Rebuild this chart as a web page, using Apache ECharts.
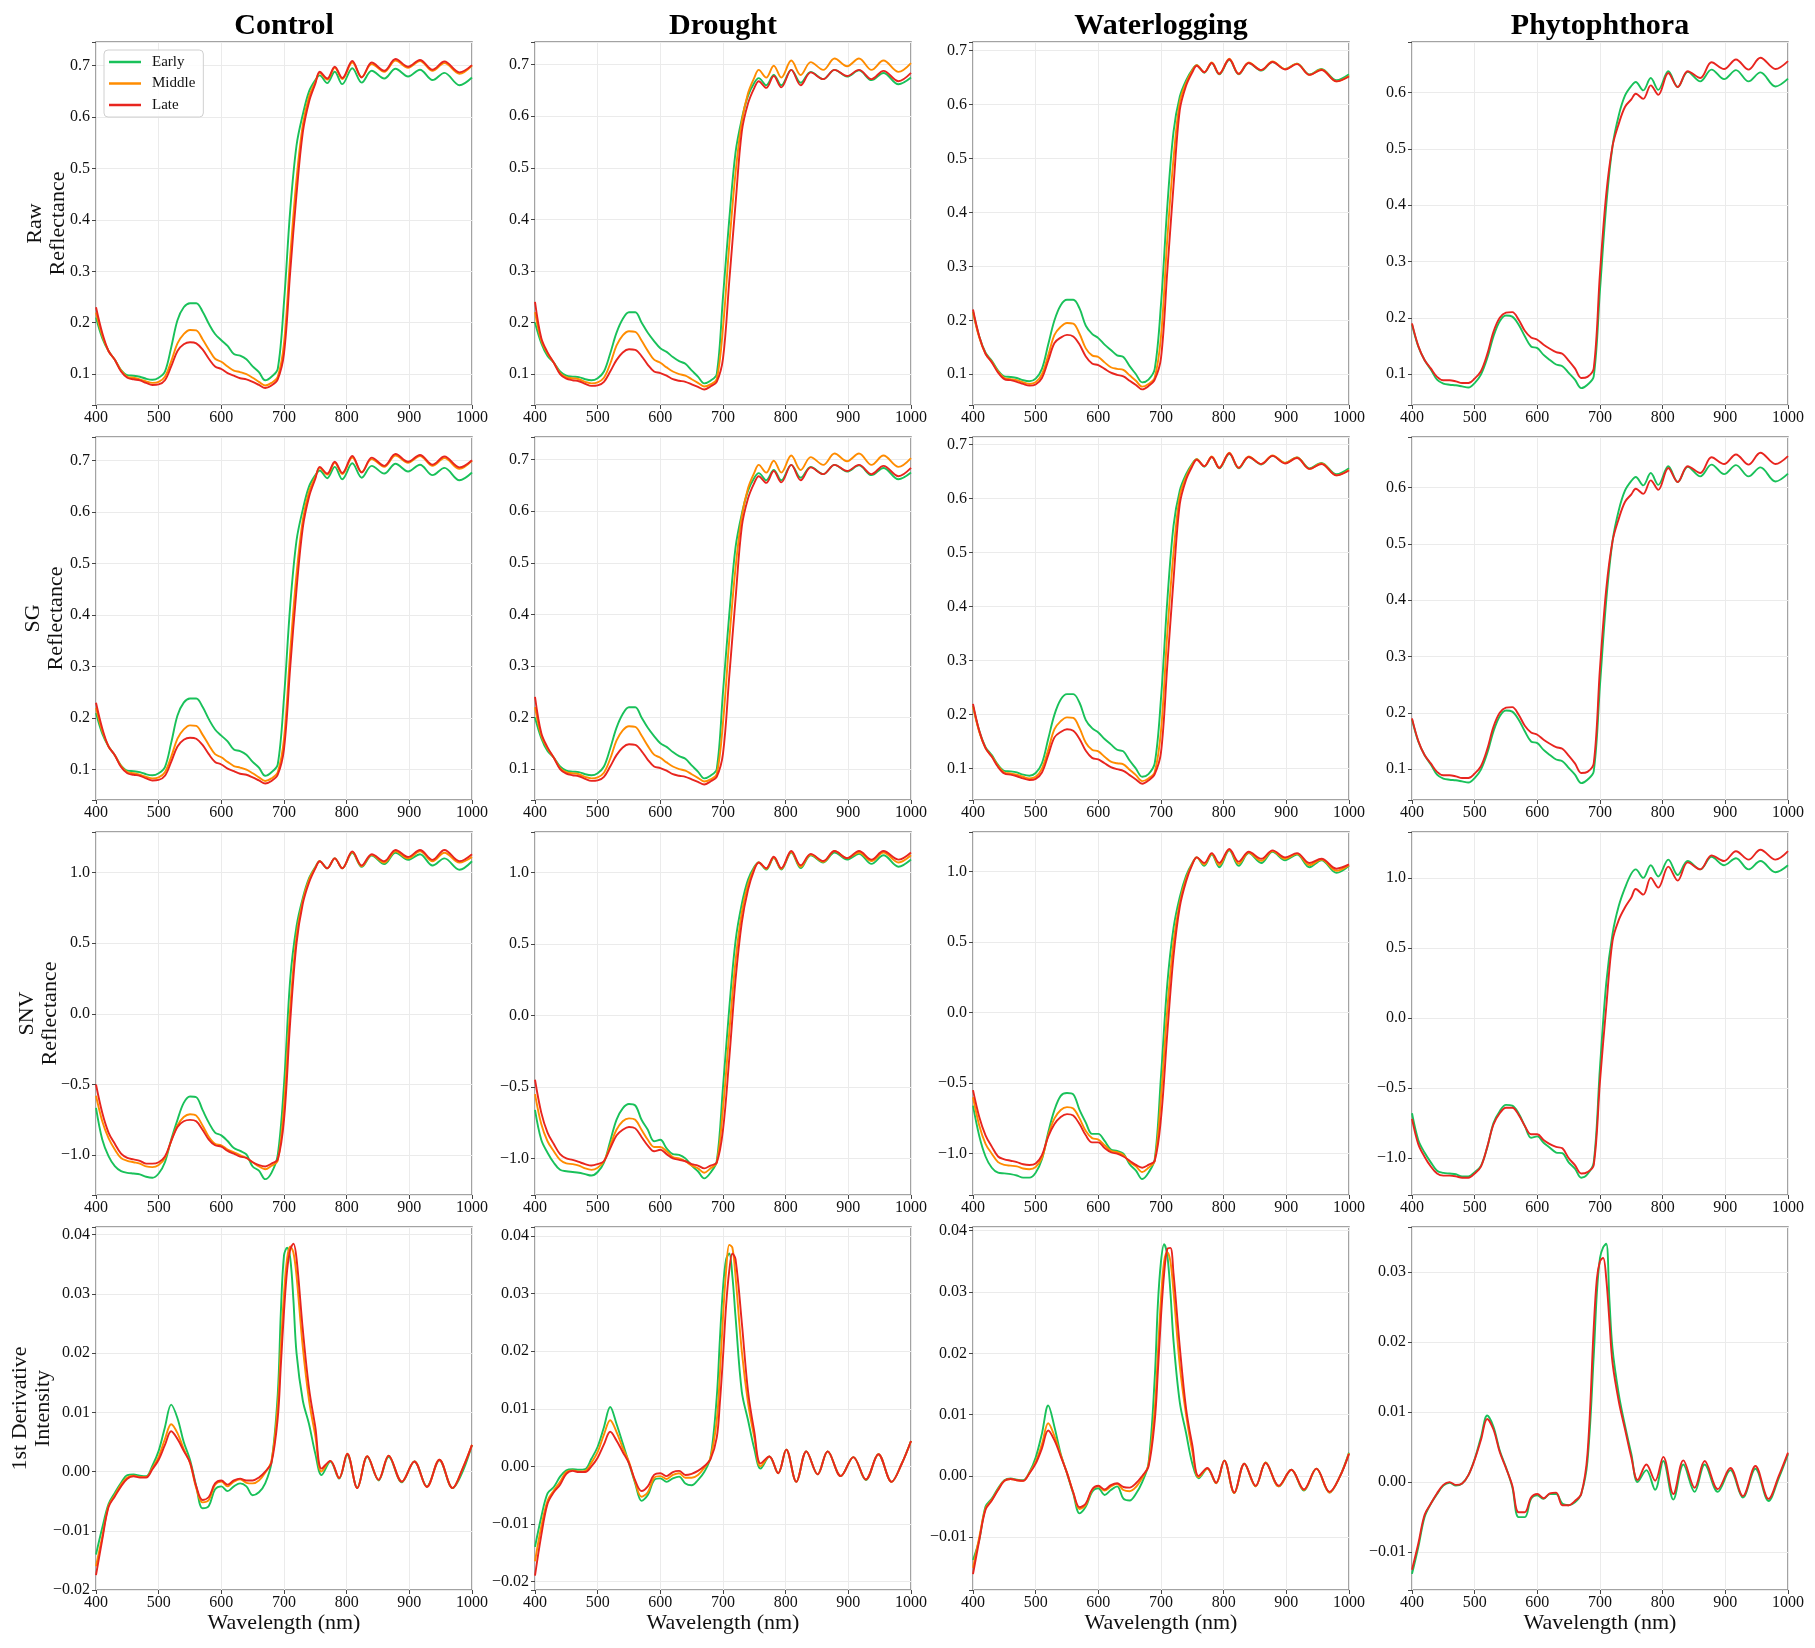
<!DOCTYPE html>
<html>
<head>
<meta charset="utf-8">
<title>Spectra by treatment</title>
<script src="https://cdn.jsdelivr.net/npm/echarts@6/dist/echarts.min.js"></script>
<style>
  html, body { margin: 0; padding: 0; background: #fff; }
  #chart { width: 1815px; height: 1648px; }
</style>
</head>
<body>
<div id="chart"></div>
<script>
// sampling grids (nm). NIR part follows the ripple peaks / troughs
const wlRef = [400,410,420,430,440,450,460,470,480,490,500,510,520,530,540,550,560,570,580,590,
  600,610,620,630,640,650,660,670,680,690,700,710,720,730,740,750,
  757,769,781,793,809,824,840,860,878,898,917,937,956,980,1000];
const wlDer = [400,410,420,430,440,450,460,470,480,490,500,510,520,530,540,550,560,570,580,590,
  600,610,620,630,640,650,660,670,680,690,695,700,705,710,715,720,730,740,750,
  760,774,788,801,817,833,851,867,888,908,928,948,969,985,1000];

const conditions = ['Control', 'Drought', 'Waterlogging', 'Phytophthora'];
const stageColors = { Early: '#19c15a', Middle: '#ff8c00', Late: '#e8251f' };

// ---- raw reflectance ----
const rawControlEarly = [0.21,0.17,0.145,0.128,0.108,0.098,0.097,0.095,0.091,0.089,
  0.093,0.105,0.152,0.205,0.23,0.238,0.238,0.222,0.198,0.178,
  0.166,0.155,0.139,0.136,0.129,0.115,0.104,0.088,0.095,0.11,
  0.24,0.42,0.545,0.605,0.65,0.672,
  0.681,0.666,0.688,0.664,0.695,0.667,0.690,0.675,0.694,0.679,0.692,0.672,0.686,0.662,0.677];
const rawControlMiddle = [0.22,0.175,0.145,0.128,0.107,0.095,0.093,0.09,0.086,0.083,
  0.085,0.095,0.125,0.16,0.178,0.186,0.185,0.168,0.148,0.13,
  0.124,0.115,0.107,0.104,0.1,0.093,0.085,0.078,0.083,0.095,
  0.16,0.33,0.48,0.585,0.64,0.668,
  0.686,0.673,0.696,0.674,0.706,0.678,0.703,0.688,0.71,0.696,0.709,0.69,0.705,0.684,0.7];
const rawControlLate = [0.23,0.18,0.145,0.128,0.105,0.093,0.09,0.088,0.083,0.079,
  0.08,0.088,0.115,0.145,0.158,0.162,0.16,0.148,0.13,0.115,
  0.11,0.102,0.097,0.092,0.09,0.085,0.079,0.073,0.078,0.09,
  0.14,0.3,0.45,0.57,0.63,0.665,
  0.688,0.675,0.698,0.676,0.709,0.677,0.706,0.69,0.713,0.698,0.711,0.692,0.708,0.687,0.701];

const rawDroughtEarly = [0.2,0.16,0.135,0.122,0.105,0.097,0.095,0.094,0.09,0.088,
  0.092,0.105,0.14,0.18,0.207,0.22,0.22,0.2,0.18,0.164,
  0.15,0.143,0.133,0.125,0.12,0.107,0.095,0.082,0.087,0.1,
  0.25,0.4,0.53,0.595,0.64,0.665,
  0.674,0.66,0.68,0.66,0.69,0.665,0.686,0.672,0.69,0.677,0.689,0.67,0.684,0.662,0.675];
const rawDroughtMiddle = [0.22,0.165,0.14,0.122,0.102,0.094,0.092,0.09,0.085,0.082,
  0.084,0.093,0.12,0.155,0.175,0.183,0.182,0.165,0.145,0.128,
  0.122,0.113,0.105,0.1,0.097,0.09,0.083,0.076,0.08,0.09,
  0.19,0.35,0.49,0.59,0.645,0.675,
  0.69,0.675,0.698,0.675,0.708,0.68,0.705,0.69,0.712,0.697,0.712,0.69,0.708,0.686,0.703];
const rawDroughtLate = [0.24,0.17,0.142,0.122,0.1,0.091,0.088,0.086,0.081,0.077,
  0.078,0.085,0.105,0.127,0.142,0.148,0.147,0.135,0.118,0.105,
  0.102,0.097,0.09,0.087,0.085,0.08,0.075,0.07,0.076,0.085,
  0.13,0.28,0.43,0.57,0.625,0.655,
  0.668,0.655,0.678,0.656,0.69,0.66,0.685,0.672,0.69,0.678,0.69,0.672,0.688,0.668,0.684];

const rawWaterEarly = [0.216,0.17,0.14,0.125,0.107,0.096,0.095,0.093,0.089,0.087,
  0.092,0.11,0.155,0.2,0.228,0.238,0.238,0.222,0.19,0.175,
  0.167,0.155,0.145,0.135,0.132,0.115,0.1,0.085,0.09,0.11,
  0.23,0.41,0.55,0.615,0.645,0.665,
  0.673,0.659,0.677,0.656,0.683,0.656,0.677,0.663,0.679,0.666,0.676,0.656,0.666,0.645,0.656];
const rawWaterMiddle = [0.215,0.168,0.138,0.123,0.105,0.093,0.091,0.089,0.085,0.082,
  0.085,0.1,0.135,0.173,0.188,0.195,0.194,0.175,0.148,0.135,
  0.132,0.122,0.113,0.11,0.108,0.098,0.088,0.077,0.082,0.094,
  0.17,0.35,0.5,0.605,0.64,0.663,
  0.673,0.66,0.678,0.657,0.685,0.657,0.678,0.664,0.68,0.666,0.676,0.655,0.665,0.643,0.653];
const rawWaterLate = [0.22,0.17,0.138,0.122,0.103,0.091,0.089,0.086,0.082,0.079,
  0.081,0.093,0.125,0.158,0.168,0.173,0.17,0.155,0.133,0.12,
  0.117,0.11,0.103,0.099,0.096,0.088,0.08,0.072,0.078,0.09,
  0.13,0.29,0.45,0.59,0.635,0.66,
  0.672,0.66,0.677,0.657,0.684,0.657,0.677,0.664,0.679,0.665,0.675,0.655,0.664,0.643,0.652];

const rawPhytoEarly = [0.188,0.149,0.125,0.108,0.09,0.083,0.081,0.08,0.078,0.076,
  0.084,0.099,0.128,0.167,0.194,0.204,0.202,0.188,0.167,0.149,
  0.146,0.134,0.125,0.117,0.114,0.102,0.09,0.075,0.081,0.096,
  0.25,0.4,0.505,0.56,0.595,0.612,
  0.619,0.604,0.626,0.605,0.638,0.61,0.637,0.62,0.641,0.624,0.64,0.62,0.636,0.611,0.625];
const rawPhytoLate = [0.19,0.15,0.125,0.11,0.095,0.089,0.089,0.087,0.084,0.084,
  0.092,0.105,0.135,0.175,0.2,0.209,0.21,0.197,0.177,0.165,
  0.161,0.152,0.145,0.139,0.136,0.124,0.11,0.093,0.095,0.11,
  0.28,0.42,0.505,0.545,0.575,0.588,
  0.598,0.589,0.613,0.596,0.635,0.61,0.638,0.626,0.654,0.642,0.659,0.641,0.662,0.642,0.656];

// ---- SNV reflectance ----
const snvControlEarly = [-0.666,-0.89,-1.007,-1.078,-1.113,-1.125,-1.13,-1.136,-1.153,-1.16,
  -1.13,-1.05,-0.89,-0.75,-0.63,-0.585,-0.59,-0.68,-0.77,-0.84,
  -0.86,-0.9,-0.95,-0.97,-0.995,-1.08,-1.11,-1.17,-1.125,-1.0,
  -0.5,0.25,0.62,0.82,0.96,1.04,
  1.08,1.03,1.1,1.03,1.14,1.04,1.12,1.06,1.14,1.09,1.13,1.05,1.1,1.02,1.08];
const snvControlMiddle = [-0.58,-0.76,-0.88,-0.96,-1.02,-1.04,-1.05,-1.06,-1.08,-1.085,
  -1.07,-1.02,-0.9,-0.79,-0.73,-0.71,-0.72,-0.79,-0.87,-0.92,
  -0.93,-0.96,-0.98,-1.0,-1.02,-1.05,-1.08,-1.1,-1.075,-1.04,
  -0.65,0.05,0.55,0.8,0.95,1.035,
  1.08,1.03,1.1,1.03,1.145,1.045,1.125,1.07,1.15,1.1,1.15,1.08,1.14,1.07,1.11];
const snvControlLate = [-0.5,-0.7,-0.84,-0.92,-0.99,-1.02,-1.03,-1.04,-1.06,-1.06,
  -1.05,-1.01,-0.9,-0.8,-0.76,-0.75,-0.76,-0.82,-0.89,-0.93,
  -0.94,-0.97,-0.99,-1.01,-1.02,-1.05,-1.07,-1.08,-1.06,-1.03,
  -0.75,-0.05,0.5,0.78,0.93,1.03,
  1.08,1.03,1.1,1.03,1.15,1.05,1.13,1.08,1.16,1.11,1.16,1.09,1.16,1.08,1.13];

const snvDroughtEarly = [-0.66,-0.87,-0.96,-1.03,-1.08,-1.09,-1.095,-1.1,-1.11,-1.12,
  -1.095,-1.03,-0.88,-0.73,-0.65,-0.62,-0.63,-0.73,-0.8,-0.88,
  -0.87,-0.93,-0.97,-0.975,-1.0,-1.05,-1.09,-1.14,-1.1,-1.02,
  -0.5,0.05,0.52,0.78,0.95,1.04,
  1.07,1.02,1.1,1.02,1.14,1.03,1.12,1.07,1.14,1.09,1.13,1.06,1.12,1.04,1.09];
const snvDroughtMiddle = [-0.55,-0.76,-0.88,-0.95,-1.01,-1.035,-1.04,-1.05,-1.07,-1.08,
  -1.065,-1.02,-0.91,-0.8,-0.74,-0.72,-0.73,-0.8,-0.87,-0.92,
  -0.92,-0.95,-0.99,-1.0,-1.02,-1.05,-1.07,-1.1,-1.07,-1.03,
  -0.65,-0.12,0.38,0.72,0.92,1.03,
  1.07,1.025,1.105,1.025,1.145,1.04,1.125,1.075,1.15,1.1,1.14,1.08,1.14,1.07,1.12];
const snvDroughtLate = [-0.45,-0.68,-0.82,-0.9,-0.97,-1.0,-1.01,-1.025,-1.04,-1.05,
  -1.04,-1.02,-0.93,-0.84,-0.8,-0.78,-0.79,-0.85,-0.91,-0.95,
  -0.94,-0.97,-1.0,-1.01,-1.02,-1.04,-1.05,-1.07,-1.05,-1.03,
  -0.8,-0.3,0.25,0.65,0.88,1.02,
  1.07,1.03,1.11,1.03,1.15,1.05,1.13,1.08,1.15,1.1,1.15,1.09,1.15,1.09,1.14];

const snvWaterEarly = [-0.66,-0.875,-1.02,-1.1,-1.135,-1.14,-1.145,-1.155,-1.17,-1.17,
  -1.135,-1.04,-0.85,-0.69,-0.59,-0.57,-0.58,-0.69,-0.78,-0.86,
  -0.86,-0.91,-0.97,-0.98,-1.0,-1.075,-1.12,-1.18,-1.135,-1.04,
  -0.45,0.2,0.6,0.82,0.97,1.06,
  1.1,1.04,1.12,1.03,1.15,1.04,1.13,1.06,1.14,1.08,1.12,1.03,1.08,0.99,1.04];
const snvWaterMiddle = [-0.6,-0.8,-0.93,-1.0,-1.06,-1.08,-1.085,-1.09,-1.105,-1.11,
  -1.095,-1.03,-0.87,-0.75,-0.69,-0.67,-0.68,-0.75,-0.84,-0.89,
  -0.9,-0.94,-0.98,-0.99,-1.01,-1.06,-1.09,-1.13,-1.1,-1.05,
  -0.6,0.02,0.5,0.78,0.95,1.055,
  1.1,1.05,1.125,1.045,1.155,1.055,1.135,1.075,1.145,1.09,1.125,1.045,1.085,1.005,1.045];
const snvWaterLate = [-0.55,-0.74,-0.87,-0.95,-1.02,-1.04,-1.05,-1.06,-1.075,-1.08,
  -1.07,-1.01,-0.88,-0.79,-0.74,-0.72,-0.73,-0.79,-0.87,-0.92,
  -0.92,-0.96,-0.99,-1.0,-1.02,-1.05,-1.08,-1.1,-1.08,-1.05,
  -0.75,-0.15,0.4,0.75,0.93,1.05,
  1.1,1.06,1.13,1.06,1.16,1.07,1.14,1.09,1.15,1.1,1.13,1.06,1.09,1.02,1.05];

const snvPhytoEarly = [-0.68,-0.87,-0.96,-1.03,-1.09,-1.105,-1.11,-1.115,-1.13,-1.13,
  -1.1,-1.055,-0.925,-0.75,-0.665,-0.62,-0.625,-0.68,-0.77,-0.855,
  -0.845,-0.89,-0.925,-0.96,-0.965,-1.03,-1.075,-1.14,-1.115,-1.03,
  -0.35,0.25,0.6,0.8,0.93,1.03,
  1.06,1.0,1.09,1.01,1.13,1.02,1.12,1.06,1.15,1.09,1.14,1.06,1.12,1.04,1.09];
const snvPhytoLate = [-0.72,-0.9,-0.99,-1.06,-1.11,-1.125,-1.125,-1.13,-1.14,-1.14,
  -1.11,-1.06,-0.92,-0.76,-0.68,-0.64,-0.64,-0.69,-0.77,-0.83,
  -0.83,-0.87,-0.9,-0.92,-0.93,-1.0,-1.05,-1.11,-1.1,-1.05,
  -0.45,0.08,0.55,0.7,0.79,0.86,
  0.92,0.88,1.0,0.93,1.08,0.98,1.11,1.06,1.16,1.12,1.19,1.13,1.2,1.13,1.19];

// ---- first derivative ----
const derControlEarly = [-0.014,-0.0095,-0.0055,-0.0036,-0.0019,-0.0006,-0.0005,-0.0007,-0.0008,0.001,
  0.0035,0.0075,0.0113,0.009,0.005,0.002,-0.0025,-0.0062,-0.0058,-0.003,
  -0.0025,-0.0033,-0.0025,-0.002,-0.0025,-0.004,-0.0035,-0.002,0.0015,0.013,
  0.027,0.0365,0.0378,0.036,0.029,0.02,0.012,0.008,0.003,
  -0.0006,0.0017,-0.0012,0.0028,-0.0027,0.0025,-0.0015,0.0025,-0.0018,0.0017,-0.0025,0.0019,-0.0028,0.0,0.0045];
const derControlMiddle = [-0.016,-0.011,-0.0058,-0.004,-0.0022,-0.001,-0.0007,-0.0009,-0.0009,0.0006,
  0.0025,0.0055,0.008,0.0065,0.0038,0.0015,-0.0028,-0.0052,-0.0048,-0.0022,
  -0.0017,-0.0025,-0.0017,-0.0013,-0.0019,-0.002,-0.0015,-0.0002,0.0018,0.011,
  0.021,0.03,0.036,0.038,0.037,0.033,0.021,0.012,0.006,
  0.0,0.0018,-0.0011,0.003,-0.0028,0.0026,-0.0014,0.0027,-0.0017,0.0017,-0.0026,0.002,-0.0028,0.0005,0.0045];
const derControlLate = [-0.0175,-0.0115,-0.006,-0.0042,-0.0025,-0.0012,-0.0008,-0.001,-0.001,0.0004,
  0.002,0.0045,0.0068,0.0055,0.0035,0.0015,-0.0025,-0.0048,-0.0043,-0.002,
  -0.0015,-0.0022,-0.0015,-0.0012,-0.0015,-0.0015,-0.001,0.0,0.0015,0.009,
  0.018,0.027,0.034,0.0375,0.0385,0.036,0.024,0.014,0.0075,
  0.0005,0.0018,-0.0011,0.003,-0.0028,0.0026,-0.0014,0.0027,-0.0017,0.0017,-0.0026,0.002,-0.0028,0.0005,0.0045];

const derDroughtEarly = [-0.014,-0.0088,-0.0047,-0.0036,-0.0018,-0.0007,-0.0005,-0.0006,-0.0005,0.0013,
  0.0034,0.0068,0.0103,0.0074,0.004,0.0005,-0.003,-0.006,-0.005,-0.0024,
  -0.0021,-0.0027,-0.0021,-0.0018,-0.003,-0.0033,-0.0024,-0.001,0.0015,0.012,
  0.022,0.031,0.036,0.037,0.033,0.026,0.013,0.008,0.003,
  -0.0004,0.0017,-0.0012,0.0029,-0.0027,0.0026,-0.0014,0.0026,-0.0017,0.0016,-0.0024,0.0021,-0.0027,0.0004,0.0044];
const derDroughtMiddle = [-0.0165,-0.0105,-0.006,-0.0042,-0.0027,-0.001,-0.0007,-0.0009,-0.0008,0.0006,
  0.0025,0.0055,0.008,0.006,0.0032,0.0008,-0.0028,-0.0053,-0.0045,-0.002,
  -0.0017,-0.0022,-0.0015,-0.0012,-0.002,-0.002,-0.0015,-0.0003,0.0015,0.008,
  0.016,0.026,0.034,0.0385,0.038,0.033,0.02,0.011,0.005,
  0.0,0.0017,-0.0012,0.0029,-0.0027,0.0026,-0.0014,0.0026,-0.0017,0.0016,-0.0023,0.0021,-0.0027,0.0004,0.0044];
const derDroughtLate = [-0.019,-0.012,-0.0065,-0.0045,-0.0032,-0.0013,-0.0008,-0.001,-0.001,0.0,
  0.0015,0.0038,0.006,0.0045,0.0025,0.0005,-0.0025,-0.0043,-0.0035,-0.0015,
  -0.0012,-0.0017,-0.001,-0.0008,-0.0015,-0.0013,-0.0008,0.0,0.0012,0.005,
  0.011,0.019,0.028,0.034,0.037,0.036,0.025,0.013,0.006,
  0.0005,0.0017,-0.0012,0.0029,-0.0027,0.0026,-0.0014,0.0026,-0.0017,0.0016,-0.0023,0.0021,-0.0027,0.0004,0.0044];

const derWaterEarly = [-0.0137,-0.0104,-0.005,-0.0037,-0.002,-0.0007,-0.0004,-0.0006,-0.0007,0.0006,
  0.003,0.0069,0.0115,0.008,0.0036,0.0004,-0.0029,-0.0061,-0.005,-0.0026,
  -0.002,-0.0031,-0.0023,-0.0017,-0.0037,-0.004,-0.0029,-0.001,0.002,0.016,
  0.028,0.035,0.0378,0.036,0.03,0.022,0.012,0.007,0.002,
  -0.0004,0.0012,-0.0012,0.0025,-0.0028,0.002,-0.0017,0.0022,-0.0017,0.001,-0.0024,0.0012,-0.0027,-0.0002,0.0038];
const derWaterMiddle = [-0.015,-0.01,-0.0053,-0.0039,-0.0022,-0.0008,-0.0005,-0.0007,-0.0008,0.0005,
  0.0023,0.0052,0.0086,0.0065,0.0034,0.0005,-0.0027,-0.0054,-0.0047,-0.0023,
  -0.0017,-0.0024,-0.0017,-0.0013,-0.0023,-0.0025,-0.0018,-0.0003,0.0018,0.011,
  0.02,0.029,0.035,0.0365,0.035,0.03,0.018,0.01,0.004,
  -0.0002,0.0012,-0.0012,0.0025,-0.0028,0.002,-0.0017,0.0022,-0.0017,0.001,-0.0023,0.0012,-0.0027,-0.0002,0.0037];
const derWaterLate = [-0.016,-0.0105,-0.0055,-0.004,-0.0023,-0.0008,-0.0005,-0.0007,-0.0008,0.0004,
  0.002,0.0045,0.0074,0.0058,0.0032,0.0005,-0.0027,-0.0051,-0.0045,-0.0022,
  -0.0016,-0.0022,-0.0015,-0.0012,-0.0018,-0.0019,-0.0012,0.0,0.0015,0.009,
  0.017,0.026,0.033,0.037,0.0372,0.033,0.021,0.011,0.005,
  0.0,0.0013,-0.0011,0.0025,-0.0027,0.002,-0.0016,0.0021,-0.0016,0.001,-0.0022,0.0012,-0.0026,-0.0002,0.0036];

const derPhytoEarly = [-0.0131,-0.0093,-0.005,-0.0031,-0.0017,-0.0005,-0.0001,-0.0005,-0.0002,0.001,
  0.0033,0.0064,0.0095,0.0079,0.0045,0.0021,-0.0007,-0.005,-0.005,-0.0024,
  -0.0019,-0.0024,-0.0017,-0.0017,-0.0031,-0.0033,-0.0029,-0.0017,0.003,0.018,
  0.027,0.032,0.0335,0.034,0.026,0.019,0.0125,0.008,0.004,
  0.0,0.0017,-0.0011,0.003,-0.0025,0.0025,-0.0014,0.0025,-0.0014,0.0017,-0.0022,0.0019,-0.0027,0.0005,0.004];
const derPhytoLate = [-0.0125,-0.0088,-0.0047,-0.0031,-0.0016,-0.0004,0.0,-0.0004,-0.0002,0.001,
  0.0032,0.006,0.009,0.0075,0.0043,0.002,-0.0005,-0.0043,-0.0043,-0.0022,
  -0.0017,-0.0023,-0.0016,-0.0015,-0.0033,-0.0033,-0.0027,-0.0017,0.004,0.022,
  0.029,0.0315,0.032,0.029,0.023,0.017,0.0115,0.0075,0.0035,
  0.0003,0.0025,0.0002,0.0036,-0.0017,0.0031,-0.0008,0.003,-0.001,0.002,-0.002,0.0023,-0.0024,0.0008,0.0042];

// lookup tables (Phytophthora: middle stage not visible, hidden under late)
const rawData = [
  { Early: rawControlEarly, Middle: rawControlMiddle, Late: rawControlLate },
  { Early: rawDroughtEarly, Middle: rawDroughtMiddle, Late: rawDroughtLate },
  { Early: rawWaterEarly, Middle: rawWaterMiddle, Late: rawWaterLate },
  { Early: rawPhytoEarly, Late: rawPhytoLate }
];
// SG-smoothed curves read the same as the raw ones at this scale
const sgData = rawData;
const snvData = [
  { Early: snvControlEarly, Middle: snvControlMiddle, Late: snvControlLate },
  { Early: snvDroughtEarly, Middle: snvDroughtMiddle, Late: snvDroughtLate },
  { Early: snvWaterEarly, Middle: snvWaterMiddle, Late: snvWaterLate },
  { Early: snvPhytoEarly, Late: snvPhytoLate }
];
const derData = [
  { Early: derControlEarly, Middle: derControlMiddle, Late: derControlLate },
  { Early: derDroughtEarly, Middle: derDroughtMiddle, Late: derDroughtLate },
  { Early: derWaterEarly, Middle: derWaterMiddle, Late: derWaterLate },
  { Early: derPhytoEarly, Late: derPhytoLate }
];

// y ranges per column
const rawRanges = [[0.040, 0.746], [0.040, 0.744], [0.043, 0.716], [0.045, 0.690]];
const sgRanges = [[0.041, 0.746], [0.040, 0.744], [0.042, 0.714], [0.045, 0.690]];
const snvRanges = [[-1.282, 1.287], [-1.256, 1.283], [-1.293, 1.280], [-1.263, 1.327]];
const derRanges = [[-0.0200, 0.0413], [-0.0215, 0.0416], [-0.0186, 0.0406], [-0.0154, 0.0364]];

const rowDefs = [
  { label: 'Raw\nReflectance', wl: wlRef, data: rawData, ranges: rawRanges, step: 0.1, dec: 1, labelX: 47 },
  { label: 'SG\nReflectance', wl: wlRef, data: sgData, ranges: sgRanges, step: 0.1, dec: 1, labelX: 45 },
  { label: 'SNV\nReflectance', wl: wlRef, data: snvData, ranges: snvRanges, step: 0.5, dec: 1, labelX: 39 },
  { label: '1st Derivative\nIntensity', wl: wlDer, data: derData, ranges: derRanges, step: 0.01, dec: 2, labelX: 32 }
];

const colLeft = [96, 535, 973, 1412];
const rowTop = [42, 437, 832, 1227];
const plotW = 376;
const plotH = 363;
const FONT = '"Liberation Serif", "Times New Roman", serif';

const tickFormatter = (step, dec) => v => {
  const k = v / step;
  if (Math.abs(k - Math.round(k)) > 1e-6) return '';
  const s = Math.abs(v).toFixed(dec);
  return (v < -1e-12 ? '\u2212' : '') + s;
};

const grids = [], xAxes = [], yAxes = [], series = [], graphics = [];

rowDefs.forEach((row, r) => {
  conditions.forEach((cond, c) => {
    const idx = grids.length;
    grids.push({
      left: colLeft[c], top: rowTop[r], width: plotW, height: plotH,
      show: true, borderColor: '#858585', borderWidth: 1.5, backgroundColor: 'transparent'
    });
    xAxes.push({
      type: 'value', gridIndex: idx, min: 400, max: 1000, interval: 100, position: 'bottom',
      axisLine: { show: false, onZero: false },
      axisTick: { show: true, inside: false, length: 4, lineStyle: { color: '#444' } },
      axisLabel: { fontSize: 16, color: '#111', margin: 5, fontFamily: FONT, formatter: v => String(v) },
      splitLine: { show: true, lineStyle: { color: '#ebebeb', width: 1 } },
      name: r === 3 ? 'Wavelength (nm)' : '',
      nameLocation: 'middle', nameGap: 19,
      nameTextStyle: { fontSize: 22, color: '#111', fontFamily: FONT }
    });
    const rg = row.ranges[c];
    yAxes.push({
      type: 'value', gridIndex: idx, min: rg[0], max: rg[1], position: 'left',
      minInterval: row.step, maxInterval: row.step,
      axisLine: { show: false, onZero: false },
      axisTick: { show: true, inside: false, length: 4, lineStyle: { color: '#444' } },
      axisLabel: { fontSize: 16, color: '#111', margin: 6, fontFamily: FONT,
        formatter: tickFormatter(row.step, row.dec) },
      splitLine: { show: true, lineStyle: { color: '#ebebeb', width: 1 } }
    });
    const stages = row.data[c];
    ['Early', 'Middle', 'Late'].forEach(stage => {
      const vals = stages[stage];
      if (!vals) return;
      series.push({
        name: stage, type: 'line', xAxisIndex: idx, yAxisIndex: idx,
        data: row.wl.map((w, i) => [w, vals[i]]),
        showSymbol: false, smooth: 0.35,
        lineStyle: { width: 1.9, color: stageColors[stage] },
        itemStyle: { color: stageColors[stage] },
        emphasis: { disabled: true }
      });
    });
  });
  // row label on the left
  graphics.push({
    type: 'text', x: row.labelX, y: rowTop[r] + plotH / 2, rotation: Math.PI / 2,
    style: {
      text: row.label, fill: '#111', fontSize: 22, fontFamily: FONT, lineHeight: 23,
      textAlign: 'center', textVerticalAlign: 'middle', align: 'center', verticalAlign: 'middle'
    }
  });
});

// column titles
conditions.forEach((cond, c) => {
  graphics.push({
    type: 'text', x: colLeft[c] + plotW / 2, y: 26,
    style: {
      text: cond, fill: '#000', fontSize: 30, fontWeight: 'bold', fontFamily: FONT,
      textAlign: 'center', textVerticalAlign: 'middle', align: 'center', verticalAlign: 'middle'
    }
  });
});

const chart = echarts.init(document.getElementById('chart'), null, { renderer: 'canvas' });
chart.setOption({
  animation: false,
  backgroundColor: '#fff',
  textStyle: { fontFamily: FONT },
  grid: grids,
  xAxis: xAxes,
  yAxis: yAxes,
  series: series,
  graphic: graphics,
  legend: {
    data: ['Early', 'Middle', 'Late'],
    orient: 'vertical', left: 104, top: 50,
    icon: 'rect', itemWidth: 32, itemHeight: 2.5, itemGap: 5.5,
    padding: [4, 8, 4, 5],
    backgroundColor: 'rgba(255,255,255,0.85)',
    borderColor: '#d0d0d0', borderWidth: 1, borderRadius: 4,
    selectedMode: false,
    textStyle: { fontSize: 15, color: '#111', fontFamily: FONT, lineHeight: 16, padding: [0, 0, 0, 6] }
  }
});
</script>
</body>
</html>
